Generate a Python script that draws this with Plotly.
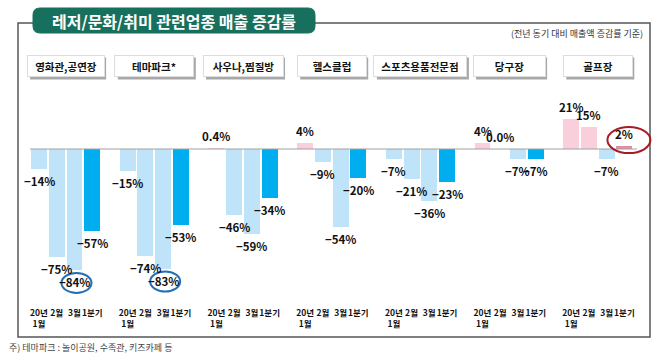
import plotly.graph_objects as go

# ---------------- data ----------------
categories = ["영화관,공연장", "테마파크*", "사우나,찜질방", "헬스클럽", "스포츠용품전문점", "당구장", "골프장"]
periods = ["20년<br>1월", "2월", "3월", "1분기"]
movie = [-14, -75, -84, -57]
theme_park = [-15, -74, -83, -53]
sauna = [0.4, -46, -59, -34]
health = [4, -9, -54, -20]
sports = [-7, -21, -36, -23]
billiards = [4, 0.0, -7, -7]
golf = [21, 15, -7, 2]
series = [movie, theme_park, sauna, health, sports, billiards, golf]
highlight_blue = [(0, 2), (1, 2)]   # (category index, period index)
highlight_red = [(6, 3)]

title_text = "레저/문화/취미 관련업종 매출 증감률"
subtitle_text = "(전년 동기 대비 매출액 증감률 기준)"
footnote_text = "주) 테마파크 : 놀이공원, 수족관, 키즈카페 등"

# ---------------- style ----------------
W, H = 664, 358
FONT = "Noto Sans CJK KR, Noto Sans, sans-serif"
NUM_FONT = "Liberation Sans Narrow, Noto Sans CJK KR, sans-serif"
LIGHT_BLUE = "#bfe3f8"
DARK_BLUE = "#00aeef"
LIGHT_PINK = "#f8cfdb"
DARK_PINK = "#df8ea6"
SLOT = len(periods) + 1

def xpos(g, i):
    return g * SLOT + i

def fmt(v):
    s = f"{v:.1f}%" if abs(v) < 1 else f"{v:.0f}%"
    return s.replace("-", "\u2212")

xs, ys, colors, tickvals, ticktext = [], [], [], [], []
for g, vals in enumerate(series):
    for i, v in enumerate(vals):
        xs.append(xpos(g, i))
        ys.append(v)
        last = i == len(periods) - 1
        if v >= 0:
            colors.append(DARK_PINK if last else LIGHT_PINK)
        else:
            colors.append(DARK_BLUE if last else LIGHT_BLUE)
        tickvals.append(xpos(g, i))
        ticktext.append(periods[i])

fig = go.Figure()
fig.add_trace(go.Bar(x=xs, y=ys, marker=dict(color=colors, line=dict(width=0)),
                     width=0.9, hoverinfo="skip"))

shapes = []
annotations = []

# outer frame
shapes.append(dict(type="rect", xref="paper", yref="paper",
                   x0=18 / W, x1=650 / W, y0=1 - 337 / H, y1=1 - 23 / H,
                   line=dict(color="#555555", width=1.5), fillcolor="rgba(0,0,0,0)", layer="below"))

# title box (rounded)
def P(x, y):
    return f"{x},{-y}"
x0, x1, y0, y1, r = 33, 315, 8, 33, 7
path = (f"M {P(x0 + r, y0)} L {P(x1 - r, y0)} Q {P(x1, y0)} {P(x1, y0 + r)} "
        f"L {P(x1, y1 - r)} Q {P(x1, y1)} {P(x1 - r, y1)} L {P(x0 + r, y1)} "
        f"Q {P(x0, y1)} {P(x0, y1 - r)} L {P(x0, y0 + r)} Q {P(x0, y0)} {P(x0 + r, y0)} Z")
shapes.append(dict(type="path", xref="paper", yref="paper", xsizemode="pixel", ysizemode="pixel",
                   xanchor=0, yanchor=1, path=path, fillcolor="#17705d",
                   line=dict(color="#17705d", width=1), layer="above"))
annotations.append(dict(text=f"<b>{title_text}</b>", xref="paper", yref="paper",
                        x=174 / W, y=1 - 21 / H, showarrow=False, xanchor="center", yanchor="middle",
                        font=dict(family=FONT, size=16, color="white")))
annotations.append(dict(text=subtitle_text, xref="paper", yref="paper",
                        x=645 / W, y=1 - 34 / H, showarrow=False, xanchor="right", yanchor="middle",
                        font=dict(family=FONT, size=9, color="#333333")))
annotations.append(dict(text=footnote_text, xref="paper", yref="paper",
                        x=7 / W, y=1 - 347 / H, showarrow=False, xanchor="left", yanchor="middle",
                        font=dict(family=FONT, size=9, color="#444444")))

# zero line
shapes.append(dict(type="line", xref="x", yref="y", x0=-0.5, x1=xpos(len(series) - 1, len(periods) - 1) + 0.7,
                   y0=0, y1=0, line=dict(color="#a0a0a0", width=1), layer="above"))

# category header boxes
box_w = [76, 78, 79, 68, 92, 71, 68]
for g, name in enumerate(categories):
    cx = xpos(g, (len(periods) - 1) / 2)
    w = box_w[g]
    shapes.append(dict(type="rect", xref="x", yref="paper", xsizemode="pixel", ysizemode="pixel",
                       xanchor=cx, yanchor=1, x0=-w / 2 + 2.5, x1=w / 2 + 2.5, y0=-57.5, y1=-79.5,
                       fillcolor="#a8a8a8", line=dict(width=0), layer="above"))
    annotations.append(dict(text=f"<b>{name}</b>", xref="x", yref="paper", x=cx, y=1 - 66 / H,
                            showarrow=False, xanchor="center", yanchor="middle", width=w - 2, height=18,
                            bgcolor="white", bordercolor="#dddddd", borderwidth=1, borderpad=1,
                            font=dict(family=FONT, size=10.5, color="#111111")))

# value labels
for g, vals in enumerate(series):
    for i, v in enumerate(vals):
        annotations.append(dict(text=f"<b>{fmt(v)}</b>", xref="x", yref="y", x=xpos(g, i), y=v,
                                yshift=12 if v >= 0 else -12, showarrow=False,
                                xanchor="center", yanchor="middle",
                                font=dict(family=NUM_FONT, size=11.5, color="#111111")))

# highlight circles
for g, i in highlight_blue:
    shapes.append(dict(type="circle", xref="x", yref="y", xsizemode="pixel", ysizemode="pixel",
                       xanchor=xpos(g, i), yanchor=series[g][i], x0=-13, x1=17, y0=-3, y1=-23,
                       line=dict(color="#2470b5", width=2), layer="above"))
for g, i in highlight_red:
    shapes.append(dict(type="circle", xref="x", yref="y", xsizemode="pixel", ysizemode="pixel",
                       xanchor=xpos(g, i), yanchor=series[g][i], x0=-17, x1=26, y0=-7, y1=19,
                       line=dict(color="#a81c24", width=2), layer="above"))

px_per_unit = 17.74
xa = -39 / px_per_unit
xb = xa + W / px_per_unit
plot_bottom = 303
ppu = 1.44
ymax = 149 / ppu
ymin = ymax - plot_bottom / ppu

fig.update_layout(
    width=W, height=H, margin=dict(l=0, r=0, t=0, b=0, autoexpand=False),
    paper_bgcolor="white", plot_bgcolor="rgba(0,0,0,0)",
    showlegend=False, bargap=0,
    xaxis=dict(range=[xa, xb], domain=[0, 1], tickmode="array", tickvals=tickvals, ticktext=ticktext,
               showgrid=False, zeroline=False, showline=False, ticks="", tickangle=0, automargin=False,
               ticklabelstandoff=3,
               tickfont=dict(family=FONT, size=8.5, color="#111111", weight="bold")),
    yaxis=dict(range=[ymin, ymax], domain=[1 - plot_bottom / H, 1], visible=False,
               showgrid=False, zeroline=False, automargin=False),
    shapes=shapes, annotations=annotations,
)

fig.write_html("out.html", config={"displayModeBar": False},
               post_script="document.body.style.margin='0';")
